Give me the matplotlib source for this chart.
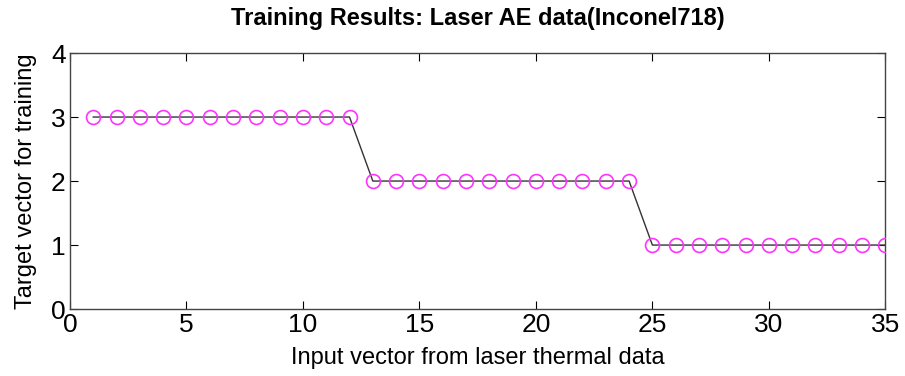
import matplotlib
matplotlib.use("Agg")
import matplotlib.pyplot as plt

x_vals = list(range(1, 36))
y_vals = [3]*12 + [2]*12 + [1]*11
x_ticks = [0, 5, 10, 15, 20, 25, 30, 35]
y_ticks = [0, 1, 2, 3, 4]

plt.rcParams['font.family'] = ['Liberation Sans', 'DejaVu Sans']
fig = plt.figure(figsize=(9.05, 3.76), dpi=100)
ax = fig.add_axes([0.0773, 0.178, 0.901, 0.681])
ax.plot(x_vals, y_vals, color='#333333', linewidth=1.0, zorder=2)
ax.plot(x_vals, y_vals, linestyle='none', marker='o', markersize=10,
        markerfacecolor='none', markeredgecolor='#ff33ff', markeredgewidth=1.2, zorder=3)
ax.set_xlim(0, 35)
ax.set_ylim(0, 4)
ax.set_xticks(x_ticks)
ax.set_yticks(y_ticks)
ax.tick_params(direction='in', top=True, right=True, labelsize=19, length=6, width=0.8)
ax.tick_params(axis='x', pad=3)
ax.tick_params(axis='y', pad=3)
for s in ax.spines.values():
    s.set_color('#444444')
    s.set_linewidth(1.0)
ax.set_xlabel('Input vector from laser thermal data', fontsize=17, labelpad=7)
ax.set_ylabel('Target vector for training', fontsize=17, labelpad=10)
ax.set_title('Training Results: Laser AE data(Inconel718)', fontsize=17, fontweight='bold', pad=20)
fig.savefig('out.png', dpi=100)
